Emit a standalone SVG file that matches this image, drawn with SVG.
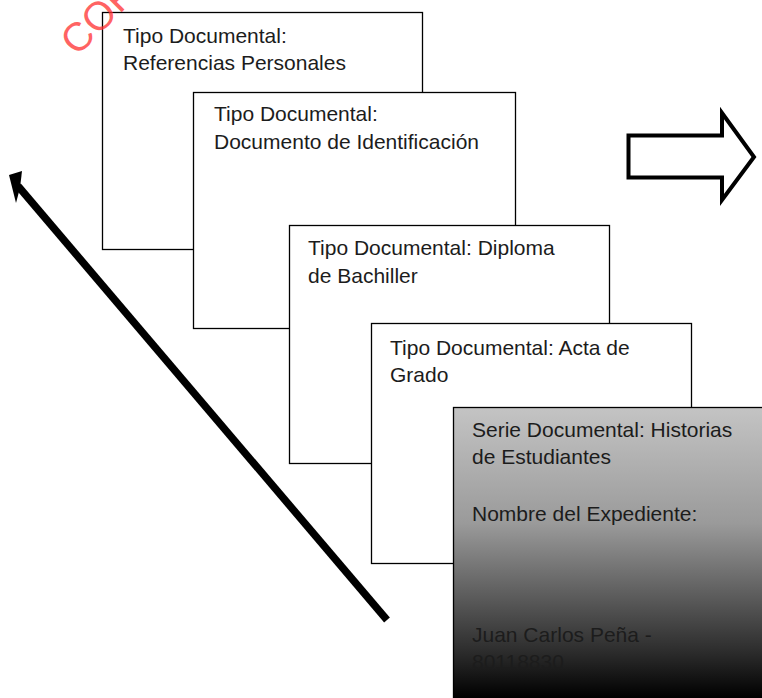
<svg xmlns="http://www.w3.org/2000/svg" width="762" height="698" viewBox="0 0 762 698">
<defs>
<linearGradient id="g" gradientUnits="userSpaceOnUse" x1="0" y1="407" x2="0" y2="698">
<stop offset="0" stop-color="#c4c4c4"/>
<stop offset="0.4" stop-color="#9a9a9a"/>
<stop offset="0.67" stop-color="#575757"/>
<stop offset="0.85" stop-color="#2a2a2a"/>
<stop offset="1" stop-color="#000"/>
</linearGradient>
<style>
.box{fill:#fff;stroke:#000;stroke-width:1.3}
.t{font-family:"Liberation Sans",Arial,sans-serif;font-size:21px;fill:#1c1c1c}
</style>
</defs>
<rect width="762" height="698" fill="#fff"/>
<g id="node1"><rect class="box" x="102.5" y="12.5" width="320" height="237"/>
<text class="t" x="123" y="43">Tipo Documental:</text><text class="t" x="123" y="70">Referencias Personales</text></g>
<g id="node2"><rect class="box" x="193.5" y="92.5" width="322" height="236"/>
<text class="t" x="214" y="121">Tipo Documental:</text><text class="t" x="214" y="149">Documento de Identificación</text></g>
<g id="node3"><rect class="box" x="289.5" y="225.5" width="320" height="238"/>
<text class="t" x="308" y="255">Tipo Documental: Diploma</text><text class="t" x="308" y="283">de Bachiller</text></g>
<g id="node4"><rect class="box" x="371.5" y="323.5" width="320" height="240"/>
<text class="t" x="390" y="355">Tipo Documental: Acta de</text><text class="t" x="390" y="382">Grado</text></g>
<g id="node5"><rect x="453.5" y="407.5" width="320" height="300" fill="url(#g)" stroke="#000" stroke-width="1.3"/>
<text class="t" x="472" y="437">Serie Documental: Historias</text><text class="t" x="472" y="464">de Estudiantes</text>
<text class="t" x="472" y="521">Nombre del Expediente:</text>
<text class="t" x="472" y="642">Juan Carlos Peña -</text><text class="t" x="472" y="669">80118830</text></g>
<g id="connectors">
<path d="M628.5 135.5 H722 V113 L754 157 L722 200 V177.5 H628.5 Z" fill="#fff" stroke="#000" stroke-width="4" stroke-linejoin="miter"/>
<line x1="387" y1="620" x2="18" y2="186" stroke="#000" stroke-width="7.5"/>
<polygon points="9,175 22,171 20,188 16,203" fill="#000"/>
</g>
<text x="77" y="57" transform="rotate(-45 77 57)" font-family="'Liberation Sans',Arial,sans-serif" font-size="40" fill="#ff3030" fill-opacity="0.75">COP</text>
</svg>
